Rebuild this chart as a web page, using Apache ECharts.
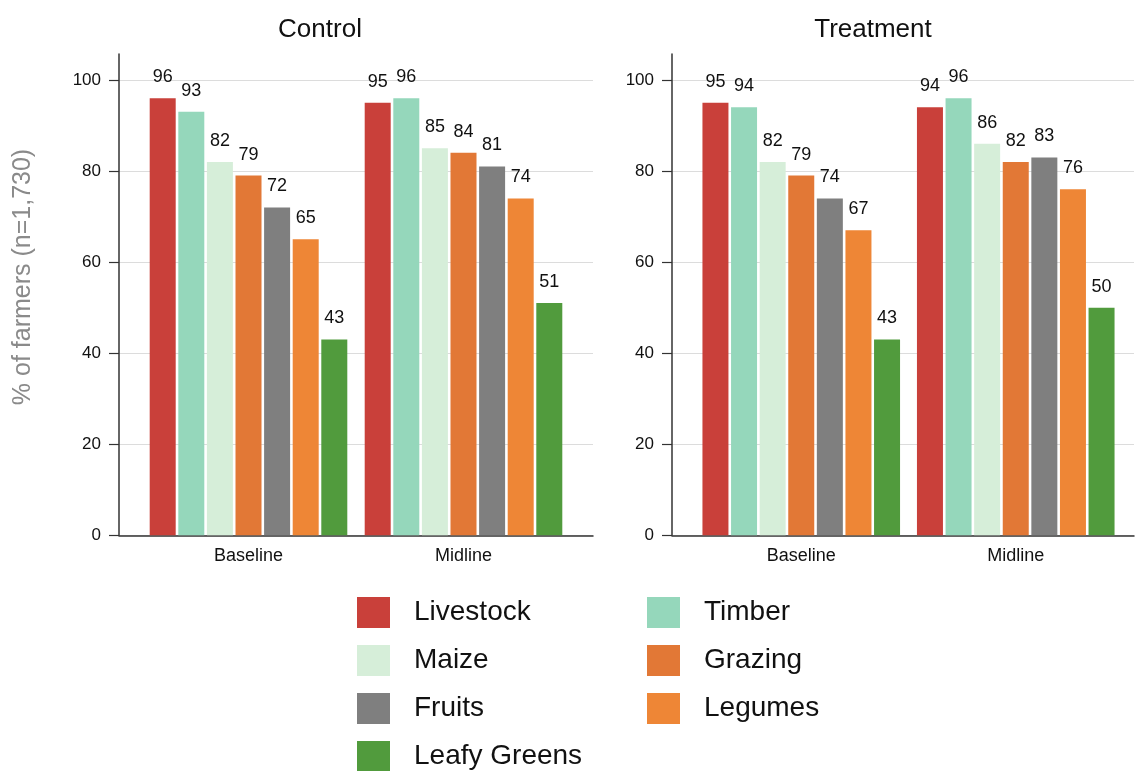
<!DOCTYPE html>
<html>
<head>
<meta charset="utf-8">
<title>Farm activities by group and round</title>
<script src="https://cdn.jsdelivr.net/npm/echarts@6/dist/echarts.min.js"></script>
<style>
  html, body { margin: 0; padding: 0; background: #ffffff; }
  #chart { width: 1136px; height: 771px; }
</style>
</head>
<body>
<div id="chart"></div>
<script>
// Survey rounds shown on each panel's x axis
const rounds = ['Baseline', 'Midline'];
// Farm activities, in legend order
const activities = ['Livestock', 'Timber', 'Maize', 'Grazing', 'Fruits', 'Legumes', 'Leafy Greens'];
const activityColors = ['#c9403a', '#95d7bb', '#d6eed9', '#e27836', '#7f7f7f', '#ee8636', '#519b3d'];

// % of farmers engaged in each activity: [Baseline, Midline]
const controlLivestock = [96, 95];
const controlTimber = [93, 96];
const controlMaize = [82, 85];
const controlGrazing = [79, 84];
const controlFruits = [72, 81];
const controlLegumes = [65, 74];
const controlLeafy = [43, 51];

const treatLivestock = [95, 94];
const treatTimber = [94, 96];
const treatMaize = [82, 86];
const treatGrazing = [79, 82];
const treatFruits = [74, 83];
const treatLegumes = [67, 76];
const treatLeafy = [43, 50];

const yTicks = { min: 0, max: 100, step: 20 };

const controlData = [controlLivestock, controlTimber, controlMaize, controlGrazing, controlFruits, controlLegumes, controlLeafy];
const treatData = [treatLivestock, treatTimber, treatMaize, treatGrazing, treatFruits, treatLegumes, treatLeafy];

const FONT = '"Liberation Sans", Arial, Helvetica, sans-serif';
const INK = '#111111';

// Vertical layout shared by both panels
const plotTop = 80, plotBottom = 535.3, axisTop = 54;

// Per panel: axis frame (ticks, gridlines, axis lines) and inner band for the bars
const panels = [
  { frameLeft: 119, frameWidth: 474, barLeft: 141, barWidth: 430, data: controlData },
  { frameLeft: 672, frameWidth: 462, barLeft: 694, barWidth: 429, data: treatData }
];

const grid = [], xAxis = [], yAxis = [], series = [];

panels.forEach(function (p) {
  const base = grid.length;
  // frame grid: y ticks, labels and gridlines, plus the baseline
  grid.push({ left: p.frameLeft, width: p.frameWidth, top: plotTop, height: plotBottom - plotTop });
  // taller grid carrying only the vertical axis line
  grid.push({ left: p.frameLeft, width: p.frameWidth, top: axisTop, height: plotBottom - axisTop });
  // bar grid
  grid.push({ left: p.barLeft, width: p.barWidth, top: plotTop, height: plotBottom - plotTop });

  xAxis.push({
    gridIndex: base, type: 'value', min: 0, max: 1,
    axisLine: { show: true, lineStyle: { color: '#333333', width: 1.5 } },
    axisTick: { show: false }, axisLabel: { show: false }, splitLine: { show: false }
  });
  yAxis.push({
    gridIndex: base, type: 'value', min: yTicks.min, max: yTicks.max, interval: yTicks.step,
    axisLine: { show: false },
    axisTick: { show: true, length: 10, lineStyle: { color: '#333333', width: 1.2 } },
    axisLabel: { show: true, margin: 18, fontSize: 17, color: INK, fontFamily: FONT },
    splitLine: { show: true, lineStyle: { color: '#dcdcdc', width: 1 } }
  });

  xAxis.push({ gridIndex: base + 1, type: 'value', show: false, min: 0, max: 1 });
  yAxis.push({
    gridIndex: base + 1, type: 'value', min: 0, max: 1,
    axisLine: { show: true, lineStyle: { color: '#333333', width: 1.5 } },
    axisTick: { show: false }, axisLabel: { show: false }, splitLine: { show: false }
  });

  xAxis.push({
    gridIndex: base + 2, type: 'category', data: rounds,
    axisLine: { show: false }, axisTick: { show: false },
    axisLabel: { margin: 12, fontSize: 18, color: INK, fontFamily: FONT }
  });
  yAxis.push({ gridIndex: base + 2, type: 'value', show: false, min: yTicks.min, max: yTicks.max });

  activities.forEach(function (name, i) {
    series.push({
      type: 'bar', name: name,
      xAxisIndex: base + 2, yAxisIndex: base + 2,
      data: p.data[i],
      barWidth: 26, barGap: '10%',
      itemStyle: { color: activityColors[i] },
      label: { show: true, position: 'top', distance: 12, fontSize: 18, color: INK, fontFamily: FONT },
      emphasis: { disabled: true },
      animation: false
    });
  });
});

const legendText = { fontSize: 28, color: INK, fontFamily: FONT, padding: [0, 0, 0, 19] };

const option = {
  backgroundColor: '#ffffff',
  animation: false,
  color: activityColors,
  grid: grid, xAxis: xAxis, yAxis: yAxis, series: series,
  legend: [
    {
      orient: 'vertical', left: 357, top: 597, height: 240, padding: 0,
      itemWidth: 33, itemHeight: 31, itemGap: 17, icon: 'rect',
      selectedMode: false, textStyle: legendText,
      data: [activities[0], activities[2], activities[4], activities[6]]
    },
    {
      orient: 'vertical', left: 647, top: 597, height: 240, padding: 0,
      itemWidth: 33, itemHeight: 31, itemGap: 17, icon: 'rect',
      selectedMode: false, textStyle: legendText,
      data: [activities[1], activities[3], activities[5]]
    }
  ],
  graphic: [
    {
      type: 'text', x: 320, y: 30,
      style: { text: 'Control', fontSize: 26, fill: INK, fontFamily: FONT, align: 'center', verticalAlign: 'middle' }
    },
    {
      type: 'text', x: 873, y: 30,
      style: { text: 'Treatment', fontSize: 26, fill: INK, fontFamily: FONT, align: 'center', verticalAlign: 'middle' }
    },
    {
      type: 'text', x: 23, y: 277, rotation: Math.PI / 2,
      style: { text: '% of farmers (n=1,730)', fontSize: 25, fill: '#8a8a8a', fontFamily: FONT, align: 'center', verticalAlign: 'middle' }
    }
  ]
};

const chart = echarts.init(document.getElementById('chart'), null, { renderer: 'canvas' });
chart.setOption(option);
</script>
</body>
</html>
